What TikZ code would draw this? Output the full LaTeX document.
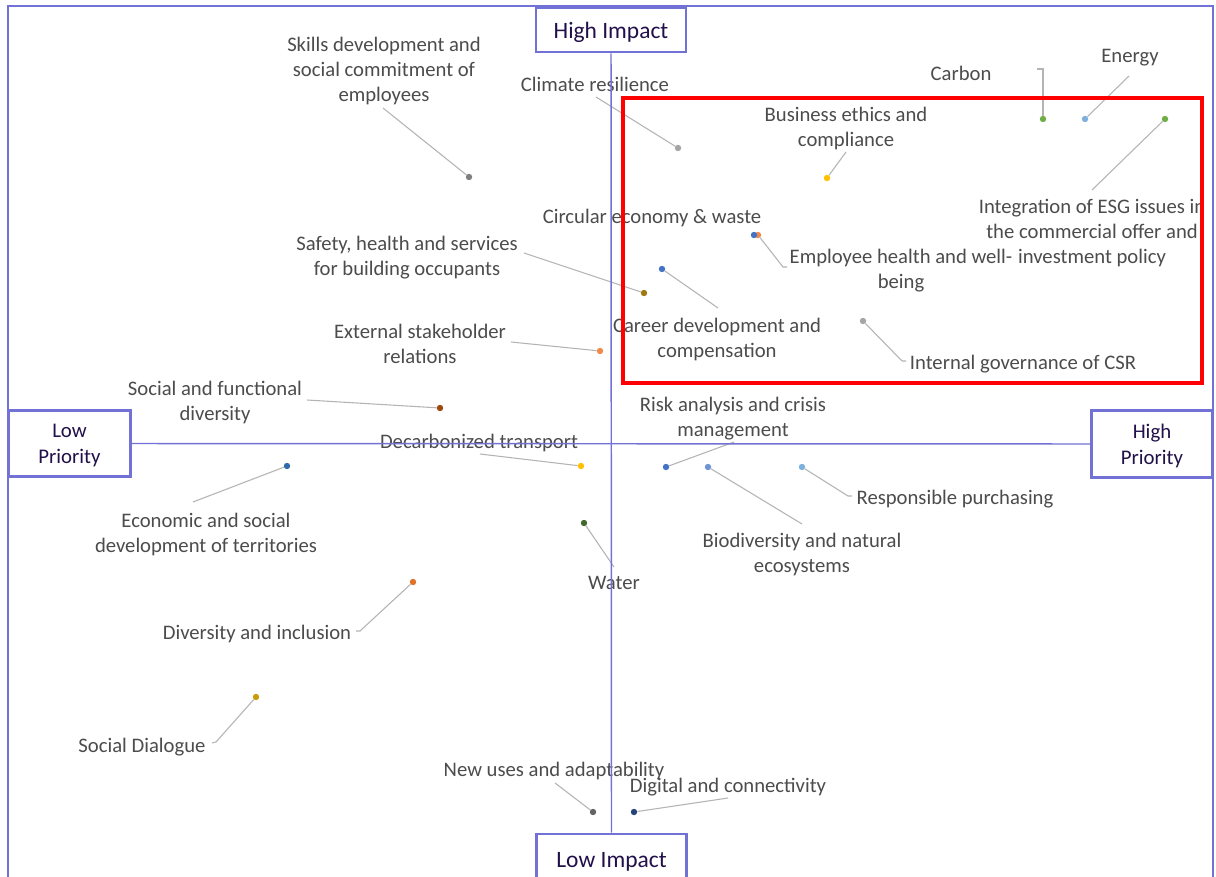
\documentclass[tikz,border=0pt]{standalone}
\usepackage{fontspec}
\setmainfont{Carlito}
\definecolor{lblgray}{HTML}{4C4C4C}
\definecolor{leadgray}{HTML}{B4B4B4}
\definecolor{axblue}{HTML}{7272D6}
\definecolor{boxtext}{HTML}{22104A}
\definecolor{cgray}{HTML}{7F7F7F}
\definecolor{clgray}{HTML}{A5A5A5}
\definecolor{cgold}{HTML}{FFC000}
\definecolor{cgreen}{HTML}{70AD47}
\definecolor{cltblue}{HTML}{7EB0DE}
\definecolor{cblue}{HTML}{4472C4}
\definecolor{corange}{HTML}{F08A4B}
\definecolor{cdgold}{HTML}{9C7A10}
\definecolor{cbrown}{HTML}{9E480E}
\definecolor{cmblue}{HTML}{2E6BA8}
\definecolor{cpblue}{HTML}{6F94D6}
\definecolor{cdgreen}{HTML}{43682B}
\definecolor{cdorange}{HTML}{E0702A}
\definecolor{cmgold}{HTML}{C99A0A}
\definecolor{cdgray}{HTML}{636363}
\definecolor{cnavy}{HTML}{264478}
\begin{document}
\begin{tikzpicture}[x=0.75pt,y=-0.75pt,
  lbl/.style={text=lblgray, font=\fontsize{15.5}{18.75}\selectfont, align=center, inner sep=0pt, yshift=-1.6pt},
  lead/.style={draw=leadgray, line width=0.8pt},
  mdot/.style={circle, fill=#1, inner sep=0pt, minimum size=4.8pt},
  impbox/.style={draw=axblue, line width=2.1pt, fill=white, text=boxtext, align=center, inner sep=0pt,
     font=\fontsize{17.6}{19}\selectfont, minimum width=112.5pt, text depth=0pt},
  priobox/.style={draw=axblue, line width=2.1pt, fill=white, text=boxtext, align=center, inner sep=0pt,
     font=\fontsize{15.6}{19.5}\selectfont, minimum width=91pt, minimum height=50pt, text depth=0pt},
  axis/.style={draw=axblue, line width=1.1pt}]
\useasboundingbox (0,0) rectangle (1216,877);
\clip (0,0) rectangle (1216,877);
\fill[white] (0,0) rectangle (1216,877);
% outer frame
\draw[axblue, line width=1.6pt] (8,6) rectangle (1213,900);

% labels
\node[lbl] (l1) at (384,69) {Skills development and\\social commitment of\\employees};
\node[lbl] (l2) at (595,82) {Climate resilience};
\node[lbl] (l3) at (846,126) {Business ethics and\\compliance};
\node[lbl] (l4) at (961,71) {Carbon};
\node[lbl] (l5) at (1130,56) {Energy};
\node[lbl] (l6) at (1092,231) {Integration of ESG issues in\\the commercial offer and\\investment policy};
\node[lbl] (l7) at (652,216) {Circular economy \& waste};
\node[lbl] (l8) at (901,268) {Employee health and well-\\being};
\node[lbl] (l9) at (407,255) {Safety, health and services\\for building occupants};
\node[lbl] (l10) at (717,337) {Career development and\\compensation};
\node[lbl] (l11) at (420,342) {External stakeholder\\relations};
\node[lbl] (l12) at (1023,362) {Internal governance of CSR};
\node[lbl] (l13) at (215,400) {Social and functional\\diversity};
\node[lbl] (l14) at (733,416) {Risk analysis and crisis\\management};
\node[lbl] (l15) at (479,441) {Decarbonized transport};
\node[lbl] (l16) at (206,532) {Economic and social\\development of territories};
\node[lbl] (l17) at (802,552) {Biodiversity and natural\\ecosystems};
\node[lbl] (l18) at (955,497) {Responsible purchasing};
\node[lbl] (l19) at (614,581) {Water};
\node[lbl] (l20) at (257,632) {Diversity and inclusion};
\node[lbl] (l21) at (142,745) {Social Dialogue};
\node[lbl] (l22) at (554,769) {New uses and adaptability};
\node[lbl] (l23) at (728,785) {Digital and connectivity};

% leader ends
\coordinate (c1) at (383,108);
\coordinate (c2) at (596,97);
\coordinate (c3) at (846,152);
\coordinate (c4a) at (1037,69);
\coordinate (c4b) at (1043,69);
\coordinate (c5) at (1129,76);
\coordinate (c6) at (1092,190);
\coordinate (c8a) at (783,267);
\coordinate (c8b) at (787,267);
\coordinate (c9) at (524,253);
\coordinate (c10) at (718,308);
\coordinate (c11) at (511,342);
\coordinate (c12a) at (902,361);
\coordinate (c12b) at (906,361);
\coordinate (c13) at (307,400);
\coordinate (c14) at (734,442);
\coordinate (c15) at (480,454);
\coordinate (c16) at (193,502);
\coordinate (c17) at (802,524);
\coordinate (c18a) at (848,496);
\coordinate (c18b) at (852,496);
\coordinate (c19) at (614,567);
\coordinate (c20a) at (360,631);
\coordinate (c20b) at (356,631);
\coordinate (c21a) at (216,742);
\coordinate (c21b) at (212,743);
\coordinate (c22) at (555,783);
\coordinate (c23) at (728,798);

% dots
\node[mdot=cgray] (d1) at (469,177) {};
\node[mdot=clgray] (d2) at (678,148) {};
\node[mdot=cgold] (d3) at (827,178) {};
\node[mdot=cgreen] (d4) at (1043,119) {};
\node[mdot=cltblue] (d5) at (1085,119) {};
\node[mdot=cgreen] (d6) at (1165,119) {};
\node[mdot=corange] (d8) at (758,235) {};
\node[mdot=cblue] (d7) at (754,235) {};
\node[mdot=cdgold] (d9) at (644,293) {};
\node[mdot=cblue] (d10) at (662,269) {};
\node[mdot=corange] (d11) at (600,351) {};
\node[mdot=clgray] (d12) at (863,321) {};
\node[mdot=cbrown] (d13) at (440,408) {};
\node[mdot=cblue] (d14) at (666,467) {};
\node[mdot=cgold] (d15) at (581,466) {};
\node[mdot=cmblue] (d16) at (287,466) {};
\node[mdot=cpblue] (d17) at (708,467) {};
\node[mdot=cltblue] (d18) at (802,467) {};
\node[mdot=cdgreen] (d19) at (584,523) {};
\node[mdot=cdorange] (d20) at (413,582) {};
\node[mdot=cmgold] (d21) at (256,697) {};
\node[mdot=cdgray] (d22) at (593,812) {};
\node[mdot=cnavy] (d23) at (634,812) {};

% leaders
\draw[lead] (c1) -- (d1);
\draw[lead] (c2) -- (d2);
\draw[lead] (c3) -- (d3);
\draw[lead] (c4a) -- (c4b) -- (d4);
\draw[lead] (c5) -- (d5);
\draw[lead] (c6) -- (d6);
\draw[lead] (d8) -- (c8a) -- (c8b);
\draw[lead] (c9) -- (d9);
\draw[lead] (d10) -- (c10);
\draw[lead] (c11) -- (d11);
\draw[lead] (d12) -- (c12a) -- (c12b);
\draw[lead] (c13) -- (d13);
\draw[lead] (d14) -- (c14);
\draw[lead] (c15) -- (d15);
\draw[lead] (c16) -- (d16);
\draw[lead] (d17) -- (c17);
\draw[lead] (d18) -- (c18a) -- (c18b);
\draw[lead] (d19) -- (c19);
\draw[lead] (d20) -- (c20a) -- (c20b);
\draw[lead] (d21) -- (c21a) -- (c21b);
\draw[lead] (d22) -- (c22);
\draw[lead] (d23) -- (c23);

% axis boxes
\node[impbox, minimum height=33pt] (hi) at (611,30) {High Impact};
\node[impbox, minimum height=39pt] (lo) at (611.5,860) {Low Impact};
\node[priobox] (lp) at (69.5,443.5) {Low\\Priority};
\node[priobox] (hp) at (1152,444) {High\\Priority};

% axes
\draw[axis] (hi.south) -- (lo.north);
\draw[axis] (lp.east) -- (hp.west);

% highlight
\draw[red, line width=2.4pt] (623,98) rectangle (1202,383);
\end{tikzpicture}
\end{document}
